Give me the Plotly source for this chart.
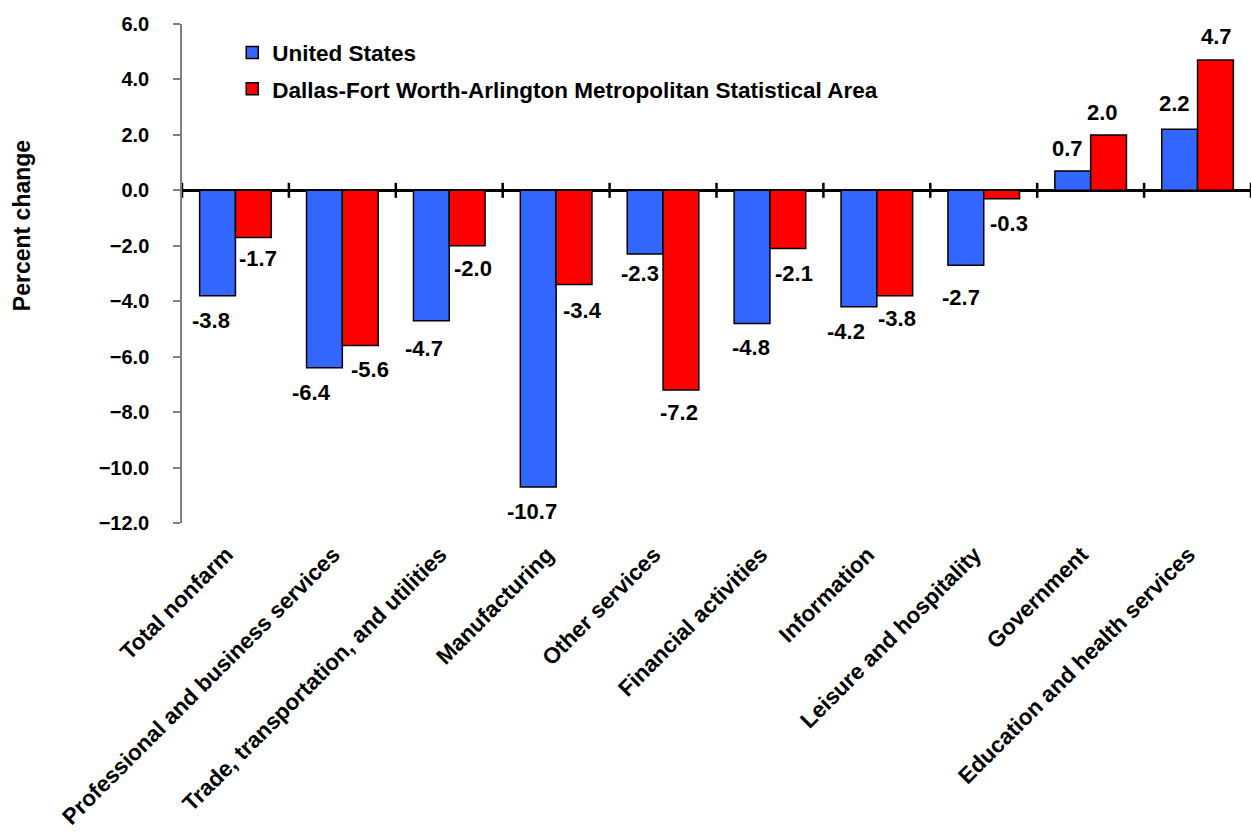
import plotly.graph_objects as go

# Employment change by industry, percent
categories = [
    "Total nonfarm",
    "Professional and business services",
    "Trade, transportation, and utilities",
    "Manufacturing",
    "Other services",
    "Financial activities",
    "Information",
    "Leisure and hospitality",
    "Government",
    "Education and health services",
]
us_values = [-3.8, -6.4, -4.7, -10.7, -2.3, -4.8, -4.2, -2.7, 0.7, 2.2]
dfw_values = [-1.7, -5.6, -2.0, -3.4, -7.2, -2.1, -3.8, -0.3, 2.0, 4.7]
series_names = [
    "United States",
    "Dallas-Fort Worth-Arlington Metropolitan Statistical Area",
]
y_ticks = [-12, -10, -8, -6, -4, -2, 0, 2, 4, 6]

FONT = "Liberation Sans, Arial, sans-serif"
BLUE = "#3366FF"
RED = "#FF0000"

fig = go.Figure()
fig.add_trace(go.Bar(
    x=categories, y=us_values, name=series_names[0],
    marker=dict(color=BLUE, line=dict(color="black", width=1.5)),
    legendgroup="us",
))
fig.add_trace(go.Bar(
    x=categories, y=dfw_values, name=series_names[1],
    marker=dict(color=RED, line=dict(color="black", width=1.5)),
    legendgroup="dfw",
))

# value labels placed beyond each bar end, with small hand nudges
us_dx = [-6, -13, -7, -6, -5, -1, -13, -5, -5, -5]
us_dy = [25, 25, 28, 25, 19, 24, 25, 32, 22, 26]
dfw_dx = [5, 10, 6, 8, -2, 6, 2, 7, -6, 1]
dfw_dy = [21, 24, 23, 26, 23, 25, 23, 25, 22, 24]

annotations = []
for vals, side, dxs, dys in ((us_values, -18, us_dx, us_dy), (dfw_values, 18, dfw_dx, dfw_dy)):
    for i, v in enumerate(vals):
        sign = 1 if v >= 0 else -1
        annotations.append(dict(
            x=categories[i], y=v, xref="x", yref="y",
            text=f"{v:.1f}", showarrow=False,
            xshift=side + dxs[i], yshift=sign * dys[i],
            xanchor="center", yanchor="middle",
            font=dict(family=FONT, size=22, color="black", weight="bold"),
        ))

annotations.append(dict(
    text="Percent change", xref="paper", yref="paper",
    x=-0.1496, y=0.595, xanchor="center", yanchor="middle",
    textangle=-90, showarrow=False,
    font=dict(family=FONT, size=23, color="black", weight="bold"),
))

# category divider ticks crossing the zero line
shapes = []
for k in range(len(categories) + 1):
    shapes.append(dict(
        type="line", xref="x", yref="y",
        x0=k - 0.5, x1=k - 0.5, y0=-0.27, y1=0.27,
        line=dict(color="black", width=2.5),
    ))

fig.update_layout(
    width=1251, height=834,
    margin=dict(l=182, r=0, t=24, b=311, autoexpand=False),
    paper_bgcolor="white", plot_bgcolor="white",
    barmode="group", bargap=0.33, bargroupgap=0,
    font=dict(family=FONT, color="black"),
    showlegend=True,
    legend=dict(
        x=0.047, y=0.985, xanchor="left", yanchor="top",
        bgcolor="rgba(0,0,0,0)",
        font=dict(family=FONT, size=22.5, color="black", weight="bold"),
        tracegroupgap=4, traceorder="grouped",
    ),
    annotations=annotations,
    shapes=shapes,
)

fig.update_xaxes(
    type="category", categoryorder="array", categoryarray=categories,
    range=[-0.5, len(categories) - 0.5], automargin=False,
    showline=False, showgrid=False, zeroline=False, ticks="",
    tickangle=-45, ticklabelstandoff=13, ticklabelshift=-9,
    tickfont=dict(family=FONT, size=22.5, color="black", weight="bold"),
)
fig.update_yaxes(
    range=[-12, 6], tickvals=y_ticks, tickformat=".1f", automargin=False,
    showline=True, linecolor="#808080", linewidth=1.5,
    ticks="outside", ticklen=7, tickcolor="#808080", tickwidth=1.5,
    ticklabelstandoff=20,
    showgrid=False,
    zeroline=True, zerolinecolor="black", zerolinewidth=2.5,
    tickfont=dict(family=FONT, size=20, color="black", weight="bold"),
)

fig.write_html("out.html")
